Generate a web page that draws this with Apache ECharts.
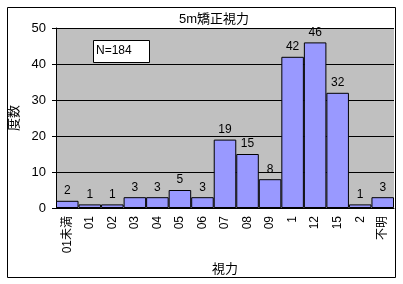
<!DOCTYPE html>
<html><head><meta charset="utf-8">
<script src="https://cdn.jsdelivr.net/npm/echarts@6/dist/echarts.min.js"></script>
<style>html,body{margin:0;padding:0;background:#fff}#c{width:403px;height:284px}</style>
</head><body><div id="c"></div>
<script>
const categories = ['01未満','01','02','03','04','05','06','07','08','09','1','12','15','2','不明'];
const counts = [2,1,1,3,3,5,3,19,15,8,42,46,32,1,3];
const yTicks = {min:0, max:50, interval:10};
const titleText = '5m矯正視力';
const xName = '視力';
const yName = '度数';
const noteText = 'N=184';
const FONT = '"Liberation Sans","Noto Sans CJK JP",sans-serif';

const chart = echarts.init(document.getElementById('c'), null, {renderer:'canvas'});
chart.setOption({
  animation:false,
  backgroundColor:'#fff',
  title:{text:titleText,left:174,top:8,textStyle:{fontFamily:FONT,fontSize:13,fontWeight:'normal',color:'#000'}},
  grid:{left:56,right:9,top:28,bottom:76,show:true,backgroundColor:'#C0C0C0',borderWidth:0,
    containLabel:false,outerBoundsMode:'none'},
  xAxis:{type:'category',data:categories,name:xName,nameLocation:'middle',nameGap:55,
    nameTextStyle:{fontFamily:FONT,fontSize:13,color:'#000'},
    axisLine:{lineStyle:{color:'#000'}},axisTick:{show:false},
    axisLabel:{rotate:90,margin:8,interval:0,fontFamily:FONT,fontSize:12,color:'#000'}},
  yAxis:{type:'value',min:yTicks.min,max:yTicks.max,interval:yTicks.interval,name:yName,nameLocation:'middle',nameGap:33,
    nameTextStyle:{fontFamily:FONT,fontSize:13,color:'#000'},
    axisLine:{show:true,lineStyle:{color:'#000'}},axisTick:{show:true,inside:false,length:4,lineStyle:{color:'#000'}},
    axisLabel:{margin:10,fontFamily:FONT,fontSize:13,color:'#000'},
    splitLine:{show:true,lineStyle:{color:'#000',width:1}}},
  series:[{type:'bar',data:counts,barCategoryGap:'0%',
    itemStyle:{color:'#9999FF',borderColor:'#000',borderWidth:1},
    label:{show:true,position:'top',distance:4,fontFamily:FONT,fontSize:12,color:'#000'}}],
  graphic:[
    {type:'rect',shape:{x:7.5,y:7.5,width:388,height:270},style:{fill:'none',stroke:'#000',lineWidth:1},z:100},
    {type:'rect',shape:{x:93.5,y:40.5,width:56,height:22},style:{fill:'#fff',stroke:'#000',lineWidth:1},z:100},
    {type:'text',x:96,y:45,style:{text:noteText,font:'12px '+FONT,fill:'#000'},z:101}
  ]
});
</script></body></html>
